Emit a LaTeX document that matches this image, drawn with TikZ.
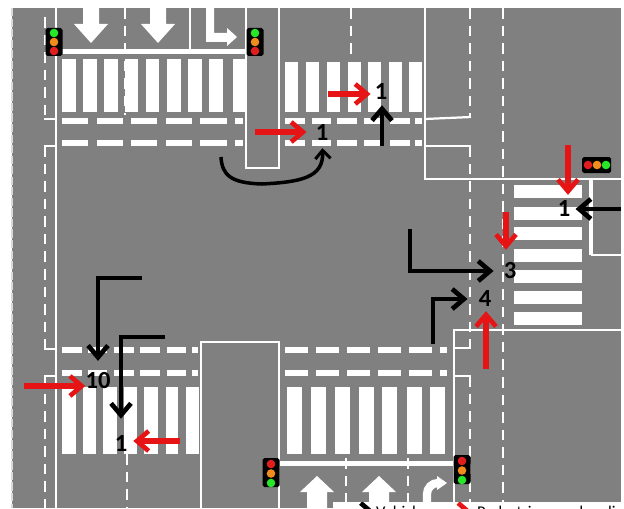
\documentclass[tikz,border=0pt]{standalone}
\usepackage{xcolor}
\usepackage{fontspec}
\setmainfont{Carlito}
\usetikzlibrary{arrows.meta}
\definecolor{roadgray}{RGB}{128,128,128}
\definecolor{lampgreen}{RGB}{40,230,40}
\definecolor{lamporange}{RGB}{240,140,30}
\definecolor{lampred}{RGB}{225,30,30}
\definecolor{arrowred}{RGB}{230,20,20}
\tikzset{
    paint/.style={white, line width=1.9pt},
    lanedash/.style={white, line width=2.4pt, dash pattern=on 9pt off 6pt},
    stripe/.style={fill=white, draw=none},
    redarrow/.style={draw=arrowred, line width=4.6pt, -{Straight Barb[length=10pt, width=17pt, line width=4pt]}},
    blackarrow/.style={draw=black, line width=4.2pt, -{Straight Barb[length=10pt, width=17pt, line width=4pt]}},
    count/.style={font=\fontsize{21}{21}\bfseries\selectfont, text=black, inner sep=0pt, text height=12.8pt, text depth=0pt},
    legendtext/.style={font=\fontsize{14}{14}\selectfont, text=black, inner sep=0pt, anchor=base west},
    lamphead/.style={fill=black, rounded corners=1.5pt, draw=none},
}
\begin{document}
\begin{tikzpicture}[x=0.03cm, y=-0.03cm]
    \useasboundingbox (0,0) rectangle (624,508);
    \fill[white] (0,0) rectangle (624,508);
    \fill[roadgray] (12,8) rectangle (621,508);
    % left edge and lane lines
    \draw[white!70!roadgray, line width=2pt, dash pattern=on 7pt off 2pt] (12,8) -- (12,508);
    \draw[paint] (56,8) -- (56,508);
    \draw[lanedash] (45,17) -- (45,119);
    \draw[paint] (44,119) -- (56,119);
    \draw[paint] (44,146) -- (56,146);
    \draw[lanedash] (45,146) -- (45,349);
    \draw[paint] (44,349) -- (56,349);
    \draw[paint] (44,376) -- (56,376);
    \draw[lanedash] (45,376) -- (45,508);
    \draw[lanedash] (125,8) -- (125,115);
    \draw[paint] (190,8) -- (190,52);
    \draw[paint] (246,8) -- (246,168) -- (279,168) -- (279,8);
    \draw[lanedash] (351,8) -- (351,60);
    \draw[paint] (425,8) -- (425,179) -- (621,179);
    \draw[paint] (425,119) -- (471,117);
    \draw[lanedash] (470,8) -- (470,117);
    \draw[paint] (425,146) -- (471,146);
    \draw[lanedash] (470,146) -- (470,348);
    \draw[paint] (454,348) -- (471,348);
    \draw[lanedash] (503,8) -- (503,508);
    \draw[paint] (621,330) -- (454,330) -- (454,502);
    \draw[paint] (454,376) -- (471,376);
    \draw[lanedash] (470,376) -- (470,502);
    \draw[white, line width=3.4pt] (591,179) -- (591,255);
    \draw[paint] (591,255) -- (621,255);
    \draw[paint] (201,508) -- (201,342) -- (279,342) -- (279,508);
    \draw[lanedash] (127,454) -- (127,508);
    \draw[lanedash] (346,458) -- (346,502);
    \draw[lanedash] (408,458) -- (408,502);
    % stop lines
    \fill[white] (56,49.5) rectangle (246,54.5);
    \fill[white] (279,460.5) rectangle (454,465.5);
    % zebra crossings
    \foreach \x/\w in {62/14, 83/14, 104/14, 125/13, 146/13, 167/14, 188/14, 209/14, 233/13} {
        \fill[stripe] (\x,59) rectangle (\x+\w,112);
    }
    \foreach \x in {285, 306, 327, 348, 368, 389, 409} {
        \fill[stripe] (\x,62) rectangle (\x+13,112);
    }
    \foreach \y in {185, 207, 227, 249, 270, 291, 312} {
        \fill[stripe] (514,\y) rectangle (582,\y+13);
    }
    \foreach \x/\w in {62/14, 83/13, 103/14, 124/13, 144/14, 166/12, 186/13} {
        \fill[stripe] (\x,387) rectangle (\x+\w,454);
    }
    \foreach \x in {287, 311, 335, 359, 382, 407, 430} {
        \fill[stripe] (\x,387) rectangle (\x+15,454);
    }
    % dashed crossing edges
    \foreach \y in {118, 140} {
        \foreach \a/\b in {62/88, 97/123, 131/157, 166/192, 200/227, 235/243, 285/305, 312/331, 337/357, 364/383, 390/410, 415/422} {
            \fill[white] (\a,\y) rectangle (\b,\y+6);
        }
    }
    \foreach \y in {347, 370} {
        \foreach \a/\b in {62/82, 88/107, 114/134, 140/160, 167/186, 192/198, 285/308, 316/339, 347/370, 378/401, 409/432, 440/447} {
            \fill[white] (\a,\y) rectangle (\b,\y+6);
        }
    }
    % road markings
    \foreach \x in {91, 158} {
        \fill[white] (\x-8,8) -- (\x+8,8) -- (\x+8,24) -- (\x+17,24) -- (\x,43) -- (\x-17,24) -- (\x-8,24) -- cycle;
    }
    \fill[white] (206,8) -- (214,8) -- (214,33) -- (227,33) -- (227,28) -- (237,37) -- (227,46) -- (227,42) -- (206,42) -- cycle;
    \foreach \x in {317, 379} {
        \fill[white] (\x-10,508) -- (\x-10,492) -- (\x-17,492) -- (\x,476) -- (\x+17,492) -- (\x+10,492) -- (\x+10,508) -- cycle;
    }
    \draw[white, line width=7pt] (427,508) -- (427,494) to[out=90, in=180] (438,483);
    \fill[white] (437,476) -- (447,483) -- (437,490) -- cycle;
    % traffic lights
    \foreach \x in {54, 255} {
        \fill[lamphead] (\x-8.5,28) rectangle (\x+8.5,56);
        \fill[lampgreen] (\x,33) circle (4.3);
        \fill[lamporange] (\x,42) circle (4.3);
        \fill[lampred] (\x,51) circle (4.3);
    }
    \foreach \x/\y in {271/464, 462/461} {
        \fill[lamphead] (\x-8.5,\y-6) rectangle (\x+8.5,\y+23);
        \fill[lampred] (\x,\y) circle (4.3);
        \fill[lamporange] (\x,\y+9.5) circle (4.3);
        \fill[lampgreen] (\x,\y+19) circle (4.3);
    }
    \fill[lamphead] (582,157) rectangle (611,173);
    \fill[lampred] (588,165) circle (4.3);
    \fill[lamporange] (597,165) circle (4.3);
    \fill[lampgreen] (606,165) circle (4.3);
    % counts
    \node[count] (oneMedian) at (322,133) {1};
    \node[count] (oneTop) at (381,92) {1};
    \node[count] (oneRight) at (564,209) {1};
    \node[count] (three) at (510,271) {3};
    \node[count] (four) at (485,299) {4};
    \node[count] (ten) at (98,381) {10};
    \node[count] (oneLeft) at (121,444) {1};
    % free ends of the arrows
    \coordinate (redMedian) at (255,132);
    \coordinate (redTop) at (328,94);
    \coordinate (redRight) at (568,145);
    \coordinate (redThree) at (506,212);
    \coordinate (redFour) at (486,369);
    \coordinate (redTen) at (24,386);
    \coordinate (redLeft) at (180,441);
    \coordinate (blackTop) at (382,146);
    \coordinate (blackRight) at (621,209);
    \coordinate (blackThree) at (410,229);
    \coordinate (blackFour) at (433,344);
    \coordinate (blackTen) at (142,278);
    \coordinate (blackLeft) at (165,337);
    \coordinate (blackMedian) at (221,157);
    \draw[redarrow, shorten >=7.7pt] (redMedian) -- (redMedian -| oneMedian.west);
    \draw[redarrow, shorten >=3.4pt] (redTop) -- (redTop -| oneTop.west);
    \draw[redarrow, shorten >=5.5pt] (redRight) -- (redRight |- oneRight.north);
    \draw[redarrow, shorten >=11.5pt] (redThree) -- (redThree |- three.north);
    \draw[redarrow, shorten >=3.8pt] (redFour) -- (redFour |- four.south);
    \draw[redarrow] (redTen) -- (redTen -| ten.west);
    \draw[redarrow, shorten >=5pt] (redLeft) -- (redLeft -| oneLeft.east);
    \draw[blackarrow, shorten >=4.7pt] (blackTop) -- (blackTop |- oneTop.south);
    \draw[blackarrow, shorten >=4.3pt] (blackRight) -- (blackRight -| oneRight.east);
    \draw[blackarrow, shorten >=8.5pt] (blackThree) |- (three.west);
    \draw[blackarrow, shorten >=9.4pt] (blackFour) |- (four.west);
    \draw[blackarrow, shorten >=10.6pt] (blackTen) -| (ten.north);
    \draw[blackarrow, shorten >=15pt] (blackLeft) -| (oneLeft.north);
    \draw[black, line width=3pt, -{Straight Barb[length=7pt, width=13pt, line width=2.6pt]}, shorten >=6.4pt] (blackMedian) .. controls (222,176) and (232,183) .. (262,184) .. controls (300,182) and (324,178) .. (oneMedian.south);
    % legend strip, cut off by the edge of the image
    \fill[white] (333,502) rectangle (624,508);
    \begin{scope}
        \clip (333,502) rectangle (621,508);
        \node[legendtext] (legendVehicle) at (376,517) {Vehicles};
        \node[legendtext] (legendPedestrian) at (477,517) {Pedestrians and cyclists};
        \coordinate (legendBlack) at (345,513);
        \coordinate (legendRed) at (445,513);
        \draw[blackarrow] (legendBlack) -- (legendBlack -| legendVehicle.west);
        \draw[redarrow, shorten >=3pt] (legendRed) -- (legendRed -| legendPedestrian.west);
    \end{scope}
\end{tikzpicture}
\end{document}
